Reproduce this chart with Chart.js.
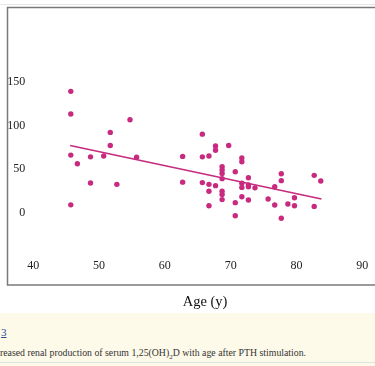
<!DOCTYPE html>
<html>
<head>
<meta charset="utf-8">
<script src="https://cdn.jsdelivr.net/npm/chart.js@4/dist/chart.umd.min.js"></script>
<style>
  html, body { margin: 0; padding: 0; background: #fff; width: 375px; height: 366px; overflow: hidden; }
  #wrap { position: absolute; left: 0; top: 0; width: 375px; height: 313px; overflow: hidden; }
  #topline { position: absolute; left: 0; top: 0; width: 375px; height: 4px; border-bottom: 1px solid #e6e6e6; }
  #cap { position: absolute; left: 0; top: 313px; width: 375px; height: 53px; background: #fdfaea; font-family: "Liberation Serif", serif; color: #333; }
  #fig { position: absolute; left: 1px; top: 13px; font-size: 11px; color: #2a4d9b; text-decoration: underline; }
  #txt { position: absolute; left: 0; top: 34px; font-size: 9.8px; white-space: nowrap; color: #333; }
  #bot { position: absolute; left: 0; top: 362px; width: 375px; border-top: 1px solid #e2e2e2; }
</style>
</head>
<body>
<div id="wrap"><canvas id="c" width="400" height="313"></canvas></div>
<div id="topline"></div>
<div id="cap">
  <div id="fig">3</div>
  <div id="txt">reased renal production of serum 1,25(OH)<sub style="font-size:7px">2</sub>D with age after PTH stimulation.</div>
</div>
<div id="bot"></div>
<script>
// Scatter data: age (years) and serum 1,25(OH)2D increment
const ages = [
  45.7, 45.7, 45.7, 45.7,
  46.7,
  48.7, 48.7,
  50.7,
  51.7, 51.7,
  52.7,
  54.7,
  55.7,
  62.7, 62.7,
  65.7, 65.7, 65.7,
  66.7, 66.7, 66.7, 66.7,
  67.7, 67.7, 67.7,
  68.7, 68.7, 68.7, 68.7, 68.7, 68.7, 68.7,
  69.7,
  70.7, 70.7, 70.7,
  71.7, 71.7, 71.7, 71.7, 71.7,
  72.7, 72.7, 72.7, 72.7,
  73.7,
  75.7,
  76.7, 76.7,
  77.7, 77.7, 77.7,
  78.7,
  79.7, 79.7,
  82.7, 82.7,
  83.7
];
const values = [
  139, 113, 66, 9,
  56,
  64, 34,
  65,
  92, 77,
  32.5,
  106.5,
  63.5,
  64.5, 35,
  90, 64, 34.5,
  65, 32.5, 24.5, 8,
  76.5, 71.5, 31,
  52.7, 49, 45, 39, 24.5, 21, 15,
  77,
  47, 11.5, -3.5,
  62.7, 58.4, 33.7, 29, 18.3,
  40, 31.7, 29.8, 14.5,
  28.5,
  15.7,
  29.8, 8.8,
  44.7, 36.7, -6.4,
  10,
  17.2, 8,
  42.8, 7.2,
  36.3
];
// Regression line end points
const trendAges = [45.6, 83.8];
const trendValues = [77, 15.7];
// Tick labels
const xTicks = [40, 50, 60, 70, 80, 90];
const yTicks = [0, 50, 100, 150];
const xTitle = "Age (y)";

const col = "#c72a7e";

const framePlugin = {
  id: 'frame',
  beforeDraw(chart) {
    const ctx = chart.ctx;
    ctx.save();
    ctx.fillStyle = '#fff';
    ctx.fillRect(0, 0, chart.width, chart.height);
    ctx.strokeStyle = '#7a7a7a';
    ctx.lineWidth = 1.5;
    ctx.beginPath();
    ctx.moveTo(420, 7.5);
    ctx.lineTo(7.5, 7.5);
    ctx.lineTo(7.5, 285);
    ctx.lineTo(420, 285);
    ctx.stroke();
    ctx.restore();
  }
};

new Chart(document.getElementById('c'), {
  type: 'scatter',
  data: {
    datasets: [
      {
        data: ages.map((a, i) => ({ x: a, y: values[i] })),
        backgroundColor: col,
        borderColor: col,
        pointRadius: 2.7,
        pointBorderWidth: 0
      },
      {
        type: 'line',
        data: trendAges.map((a, i) => ({ x: a, y: trendValues[i] })),
        borderColor: col,
        borderWidth: 1.6,
        pointRadius: 0,
        fill: false
      }
    ]
  },
  plugins: [framePlugin],
  options: {
    responsive: false,
    animation: false,
    layout: { padding: { left: 0, top: 64.3, right: 23.3, bottom: 0 } },
    plugins: { legend: { display: false }, tooltip: { enabled: false } },
    scales: {
      x: {
        type: 'linear',
        min: 40,
        max: 92.2,
        afterBuildTicks: axis => { axis.ticks = xTicks.map(v => ({ value: v })); },
        afterFit: s => { s.height = 74.1; },
        grid: { display: false, drawTicks: false },
        border: { display: false },
        ticks: {
          padding: 19.5,
          maxRotation: 0,
          autoSkip: false,
          color: '#222',
          font: { family: 'Liberation Serif', size: 12 }
        },
        title: {
          display: true,
          text: xTitle,
          color: '#111',
          padding: { top: 0, bottom: 2.3 },
          font: { family: 'Liberation Serif', size: 14.5 }
        }
      },
      y: {
        type: 'linear',
        min: -30,
        max: 170,
        afterBuildTicks: axis => { axis.ticks = yTicks.map(v => ({ value: v })); },
        afterFit: s => { s.width = 33.3; },
        grid: { display: false, drawTicks: false },
        border: { display: false },
        ticks: {
          padding: 8,
          color: '#222',
          font: { family: 'Liberation Serif', size: 12 }
        }
      }
    }
  }
});
</script>
</body>
</html>
